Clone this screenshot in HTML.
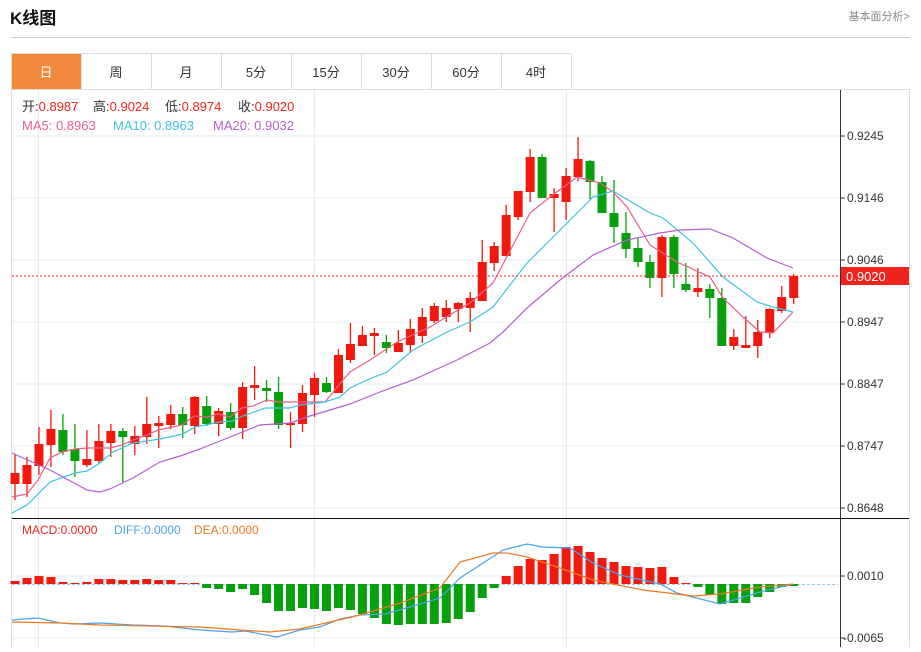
<!DOCTYPE html>
<html><head><meta charset="utf-8"><style>
body{margin:0;background:#fff;width:921px;height:647px;overflow:hidden;font-family:"Liberation Sans","Noto Sans CJK SC",sans-serif}
</style></head><body>
<svg id="s" width="921" height="647" xmlns="http://www.w3.org/2000/svg" font-family="Liberation Sans, Noto Sans CJK SC, sans-serif">
<text x="10" y="24" font-size="17" font-weight="bold" fill="#111">K线图</text>
<text x="910" y="20" font-size="11" fill="#888" text-anchor="end">基本面分析&gt;</text>
<line x1="11" y1="37.5" x2="910" y2="37.5" stroke="#ccc"/>
<rect x="11" y="54" width="70" height="35" fill="#f0893c"/>
<g stroke="#ddd" fill="none">
<line x1="11" y1="53.5" x2="571" y2="53.5"/>
<line x1="11" y1="89.5" x2="910" y2="89.5"/>
<line x1="81.5" y1="54" x2="81.5" y2="89"/><line x1="151.5" y1="54" x2="151.5" y2="89"/><line x1="221.5" y1="54" x2="221.5" y2="89"/><line x1="291.5" y1="54" x2="291.5" y2="89"/><line x1="361.5" y1="54" x2="361.5" y2="89"/><line x1="431.5" y1="54" x2="431.5" y2="89"/><line x1="501.5" y1="54" x2="501.5" y2="89"/><line x1="571.5" y1="54" x2="571.5" y2="89"/>
<line x1="11.5" y1="54" x2="11.5" y2="647"/><line x1="909.5" y1="89" x2="909.5" y2="647"/>
</g>
<g font-size="13" fill="#333" text-anchor="middle">
<text x="46" y="77" fill="#fff">日</text><text x="116" y="77">周</text><text x="186" y="77">月</text><text x="256" y="77">5分</text><text x="326" y="77">15分</text><text x="396" y="77">30分</text><text x="466" y="77">60分</text><text x="536" y="77">4时</text>
</g>
<g stroke="#e3ecf3">
<line x1="12" y1="136" x2="840" y2="136"/><line x1="12" y1="198" x2="840" y2="198"/><line x1="12" y1="260" x2="840" y2="260"/><line x1="12" y1="322" x2="840" y2="322"/><line x1="12" y1="384" x2="840" y2="384"/><line x1="12" y1="446" x2="840" y2="446"/><line x1="12" y1="508" x2="840" y2="508"/>
<line x1="12" y1="576" x2="840" y2="576"/><line x1="12" y1="638" x2="840" y2="638"/>
<line x1="38.5" y1="90" x2="38.5" y2="647"/><line x1="314.5" y1="90" x2="314.5" y2="647"/><line x1="566.5" y1="90" x2="566.5" y2="647"/>
</g>
<line x1="12" y1="518.5" x2="909" y2="518.5" stroke="#111"/>
<line x1="840.5" y1="90" x2="840.5" y2="647" stroke="#333"/>
<g font-size="12" fill="#333">
<text x="847" y="140">0.9245</text><text x="847" y="202">0.9146</text><text x="847" y="264">0.9046</text><text x="847" y="326">0.8947</text><text x="847" y="388">0.8847</text><text x="847" y="450">0.8747</text><text x="847" y="512">0.8648</text>
<text x="847" y="580">0.0010</text><text x="843" y="642">-0.0065</text>
</g>
<g stroke="#333"><line x1="840" y1="136" x2="845" y2="136"/><line x1="840" y1="198" x2="845" y2="198"/><line x1="840" y1="260" x2="845" y2="260"/><line x1="840" y1="322" x2="845" y2="322"/><line x1="840" y1="384" x2="845" y2="384"/><line x1="840" y1="446" x2="845" y2="446"/><line x1="840" y1="508" x2="845" y2="508"/><line x1="840" y1="576" x2="845" y2="576"/><line x1="840" y1="638" x2="845" y2="638"/></g>
<g font-size="13">
<text x="22" y="111" fill="#333">开:<tspan fill="#f0241d">0.8987</tspan></text>
<text x="93" y="111" fill="#333">高:<tspan fill="#f0241d">0.9024</tspan></text>
<text x="165" y="111" fill="#333">低:<tspan fill="#f0241d">0.8974</tspan></text>
<text x="238" y="111" fill="#333">收:<tspan fill="#f0241d">0.9020</tspan></text>
<text x="22" y="130" fill="#ec5f8b">MA5: 0.8963</text><text x="113" y="130" fill="#41c4de">MA10: 0.8963</text><text x="213" y="130" fill="#b25fcf">MA20: 0.9032</text>
<text x="22" y="534" fill="#f0241d" font-size="12">MACD:0.0000</text><text x="114" y="534" fill="#4aa3ef" font-size="12">DIFF:0.0000</text><text x="194" y="534" fill="#f07820" font-size="12">DEA:0.0000</text>
</g>
<line x1="12" y1="584.5" x2="838" y2="584.5" stroke="#9cc8e6" stroke-dasharray="3,2"/>
<g id="c"></g>
<polyline fill="none" stroke="#ec5f8b" stroke-width="1.2" points="12,497 27,494 38,480 50,458 62,452 75,449 87,448 110,448 122,445 133,440 147,435 158,430 182,425 194,416 207,417 218,414 230,417 242,408 253,406 267,400 278,402 300,402 325,402 343,380 350,372 370,360 397,342 430,327 453,313 470,303 493,283 530,213 550,197 577,177 600,183 613,192 627,207 650,245 677,262 710,277 723,298 743,317 760,332 773,333 793,312"/>
<polyline fill="none" stroke="#41c4de" stroke-width="1.2" points="12,513 27,505 50,482 75,473 87,471 100,463 113,452 133,443 160,439 183,434 195,427 220,422 232,421 243,416 265,408 290,408 300,405 325,402 340,397 350,388 367,380 387,372 413,350 447,332 470,322 493,307 527,263 560,230 593,197 613,191 650,213 663,218 693,243 723,277 757,302 773,307 793,312"/>
<polyline fill="none" stroke="#b25fcf" stroke-width="1.2" points="12,453 50,470 87,490 100,492 110,489 133,478 160,462 180,456 200,449 230,437 260,425 290,423 310,416 330,410 350,404 380,392 413,380 457,360 490,343 503,332 527,308 560,280 593,255 627,240 660,233 680,230 710,229 733,238 767,258 793,268"/>
<line x1="12" y1="276" x2="840" y2="276" stroke="#f0241d" stroke-dasharray="2,2"/>
<rect x="841" y="267" width="68" height="18" fill="#f0241d"/>
<text x="846" y="281" font-size="13" fill="#fff">0.9020</text>
<polyline fill="none" stroke="#4aa3ef" stroke-width="1.2" points="12,620 38,618 60,623 75,624 100,623 133,625 165,626 200,630 232,632 245,631 277,637 300,630 320,627 340,619 360,615 385,614 410,607 440,598 460,578 480,565 503,550 527,544 542,547 570,548 593,563 620,575 660,584 677,593 720,604 760,592 793,584"/>
<polyline fill="none" stroke="#f07820" stroke-width="1.2" points="12,622 60,623 100,625 200,627 240,630 270,632 300,629 330,622 360,615 400,603 440,588 460,562 493,553 507,553 527,557 560,568 593,580 643,590 693,596 720,594 760,587 793,584"/>
</svg>
<script>
var R="#f0190e",G="#06a00c";
var k=[[R,473,484,454,500],[R,465,484,457,497],[R,444,466,427,475],[R,429,445,410,467],[G,430,452,414,455],[G,449,461,424,477],[R,459,465,430,467],[R,441,461,424,463],[R,431,443,424,457],[G,431,437,428,482],[R,436,444,426,455],[R,424,437,397,444],[R,423,426,416,448],[R,414,425,405,429],[G,414,425,407,438],[R,397,426,396,434],[G,406,424,396,426],[R,411,424,408,436],[G,412,428,403,430],[R,387,428,382,439],[R,385,388,366,400],[G,388,391,380,402],[G,392,425,377,429],[R,423,425,412,448],[R,393,424,385,432],[R,378,395,373,417],[G,383,392,377,393],[R,355,393,349,393],[R,344,360,323,363],[R,335,346,326,346],[R,333,336,328,355],[G,342,348,335,353],[R,343,352,330,352],[R,329,345,319,353],[R,317,336,308,343],[R,306,321,303,323],[R,308,317,300,322],[R,303,309,302,322],[R,298,308,292,332],[R,262,301,240,301],[R,246,263,242,271],[R,215,256,205,256],[R,191,217,191,220],[R,157,192,149,202],[G,157,198,154,198],[R,194,198,188,232],[R,176,202,168,220],[R,159,177,137,181],[G,161,182,160,199],[G,182,213,176,213],[G,213,227,180,243],[G,233,249,212,258],[G,248,262,238,267],[G,262,278,255,288],[R,237,278,235,297],[G,237,274,235,288],[G,284,290,263,292],[R,288,292,268,297],[G,289,298,284,318],[G,298,346,288,346],[R,337,346,329,350],[R,345,348,316,348],[R,332,346,320,358],[R,309,333,308,338],[R,297,311,286,313],[R,276,298,274,304]];
var m=[581,578,576,577,582,583,582,579,579,580,580,579,580,580,583,583,588,589,592,589,595,603,611,611,608,609,611,608,610,614,618,624,625,624,624,624,623,619,612,598,588,576,566,559,560,554,547,546,552,558,562,566,567,568,567,577,583,587,595,604,603,603,597,592,587,586];
var h="";
for(var i=0;i<k.length;i++){var x=15+i*11.98,c=k[i];
h+='<line x1="'+x+'" x2="'+x+'" y1="'+c[3]+'" y2="'+c[4]+'" stroke="'+c[0]+'" stroke-width="1.3"/>';
h+='<rect x="'+(x-4.5)+'" y="'+c[1]+'" width="9" height="'+Math.max(1.5,c[2]-c[1])+'" fill="'+c[0]+'"/>';
var v=m[i],z=584;h+='<rect x="'+(x-4.5)+'" y="'+Math.min(v,z)+'" width="9" height="'+Math.max(1,Math.abs(v-z))+'" fill="'+(v<z?R:G)+'"/>';}
document.getElementById("c").innerHTML=h;
</script>
</body></html>
